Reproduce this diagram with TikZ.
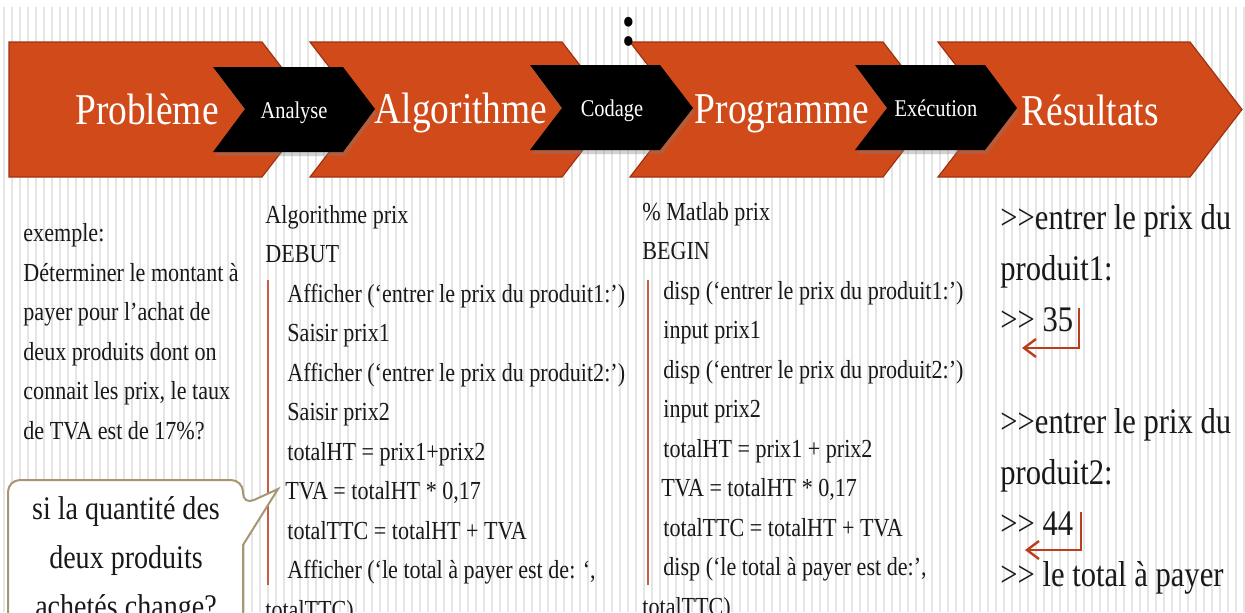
\documentclass[tikz,border=0pt]{standalone}
\usepackage{fontspec}
\setmainfont[FakeStretch=0.85]{Liberation Serif}
\usepackage{tikz}
\usetikzlibrary{positioning,
                arrows.meta,                % arrow tips
                shadows}                    % drop shadow of the black arrows

\definecolor{stageorange}{RGB}{209,74,25}
\definecolor{stageedge}{RGB}{160,50,18}
\definecolor{stripegray}{RGB}{229,229,229}
\definecolor{barred}{RGB}{196,92,72}
\definecolor{retred}{RGB}{185,62,25}
\definecolor{bubbleedge}{RGB}{168,150,115}

\newcommand{\prompt}{>\kern0pt>}

\tikzset{
  stagebox/.style={fill=stageorange, draw=stageedge, line width=0.6pt},
  actbox/.style={fill=black, drop shadow={shadow xshift=1pt, shadow yshift=-2pt, opacity=0.35}},
  stagetext/.style={text=white, inner sep=0pt, anchor=base, font=\fontsize{22}{26}\selectfont},
  acttext/.style={text=white, inner sep=0pt, anchor=base, font=\fontsize{12}{14}\selectfont},
  % multi-line nodes: base = baseline of the last line
  codetext/.style={text=black!90, inner sep=0pt, anchor=base west, align=left, font=\fontsize{13}{19.75}\selectfont},
  restext/.style={text=black!90, inner sep=0pt, anchor=base west, align=left, font=\fontsize{18}{25.5}\selectfont},
  bubbletext/.style={text=black!90, inner sep=0pt, anchor=base, align=center, font=\fontsize{16.5}{24.3}\selectfont},
  codebar/.style={barred, line width=1pt},
  retarrow/.style={retred, line width=1.2pt, -{Straight Barb[length=6pt, width=9pt]}}
}

\begin{document}
\begin{tikzpicture}[x=0.5pt, y=-0.5pt]
      \useasboundingbox (0,0) rectangle (1245,612);
      \clip (0,0) rectangle (1245,612);
      \fill[white] (0,0) rectangle (1245,612);

      % striped background
      \foreach \x in {4,12,...,1244}
        \draw[stripegray, line width=1.2pt] (\x,7) -- (\x,612);

      % stages
      \path[stagebox] (9,42) -- (262,42) -- (314,109.5) -- (262,177) -- (9,177) -- cycle;
      \path[stagebox] (310,42) -- (562,42) -- (614,109.5) -- (562,177) -- (310,177) -- (362,109.5) -- cycle;
      \path[stagebox] (630,42) -- (883,42) -- (935,109.5) -- (883,177) -- (630,177) -- (682,109.5) -- cycle;
      \path[stagebox] (938,42) -- (1190,42) -- (1242,109.5) -- (1190,177) -- (938,177) -- (990,109.5) -- cycle;

      % actions between stages
      \path[actbox] (213,67) -- (343,67) -- (375,109) -- (343,152) -- (213,152) -- (245,109) -- cycle;
      \path[actbox] (530,65) -- (660,65) -- (693,108) -- (660,150) -- (530,150) -- (562,108) -- cycle;
      \path[actbox] (855,65) -- (985,65) -- (1017,108) -- (985,150) -- (855,150) -- (887,108) -- cycle;

      \node[stagetext] (probleme) at (147,124) {Problème};
      \node[stagetext] (algorithme) at (461,123) {Algorithme};
      \node[stagetext] (programme) at (782,123) {Programme};
      \node[stagetext] (resultats) at (1090,125) {Résultats};

      \node[acttext] (analyse) at (294,118) {Analyse};
      \node[acttext] (codage) at (612,116) {Codage};
      \node[acttext] (execution) at (936,116) {Exécution};

      \node[text=black, inner sep=0pt, anchor=base, font=\bfseries\fontsize{30}{30}\selectfont] (colon) at (629,45) {:};

      % example
      \node[codetext] (exemple) at (23,439) {exemple:\\Déterminer le montant à\\payer pour l’achat de\\deux produits dont on\\connait les prix, le taux\\de TVA est de 17\%?};

      % algorithm
      \draw[codebar] (268,280) -- (268,585);
      \node[codetext] (algo) at (265,618) {Algorithme prix\\DEBUT\\
        \hspace*{11pt}Afficher (‘entrer le prix du produit1:’)\\
        \hspace*{11pt}Saisir prix1\\
        \hspace*{11pt}Afficher (‘entrer le prix du produit2:’)\\
        \hspace*{11pt}Saisir prix2\\
        \hspace*{11pt}totalHT = prix1+prix2\\
        \hspace*{10pt}TVA = totalHT * 0,17\\
        \hspace*{11pt}totalTTC = totalHT + TVA\\
        \hspace*{11pt}Afficher (‘le total à payer est de: ‘,\\
        totalTTC)};

      % matlab
      \draw[codebar] (648,280) -- (648,585);
      \node[codetext] (matlab) at (642,615) {\% Matlab prix\\BEGIN\\
        \hspace*{10.5pt}disp (‘entrer le prix du produit1:’)\\
        \hspace*{10.5pt}input prix1\\
        \hspace*{10.5pt}disp (‘entrer le prix du produit2:’)\\
        \hspace*{10.5pt}input prix2\\
        \hspace*{10.5pt}totalHT = prix1 + prix2\\
        \hspace*{9.5pt}TVA = totalHT * 0,17\\
        \hspace*{10.5pt}totalTTC = totalHT + TVA\\
        \hspace*{10.5pt}disp (‘le total à payer est de:’,\\
        totalTTC)};

      % console output
      \node[restext] (console) at (1000,586) {\prompt entrer le prix du\\produit1:\\\prompt{} 35\\[25.5pt]
        \prompt entrer le prix du\\produit2:\\\prompt{} 44\\\prompt{} le total à payer};

      \coordinate (ret1top) at (1079,308);
      \coordinate (ret1end) at (1022,348);
      \coordinate (ret2top) at (1081,512);
      \coordinate (ret2end) at (1025,550);
      \draw[retarrow] (ret1top) |- (ret1end);
      \draw[retarrow] (ret2top) |- (ret2end);

      % question bubble
      \draw[fill=white, draw=bubbleedge, line width=1pt, rounded corners=6pt]
        (8,660) -- (8,480) -- (243,480) -- (243,505) [sharp corners] -- (278,489) -- (243,545) -- (243,660) -- cycle;
      \node[bubbletext] (question) at (126,617) {si la quantité des\\deux produits\\achetés change?};
    \end{tikzpicture}
\end{document}
